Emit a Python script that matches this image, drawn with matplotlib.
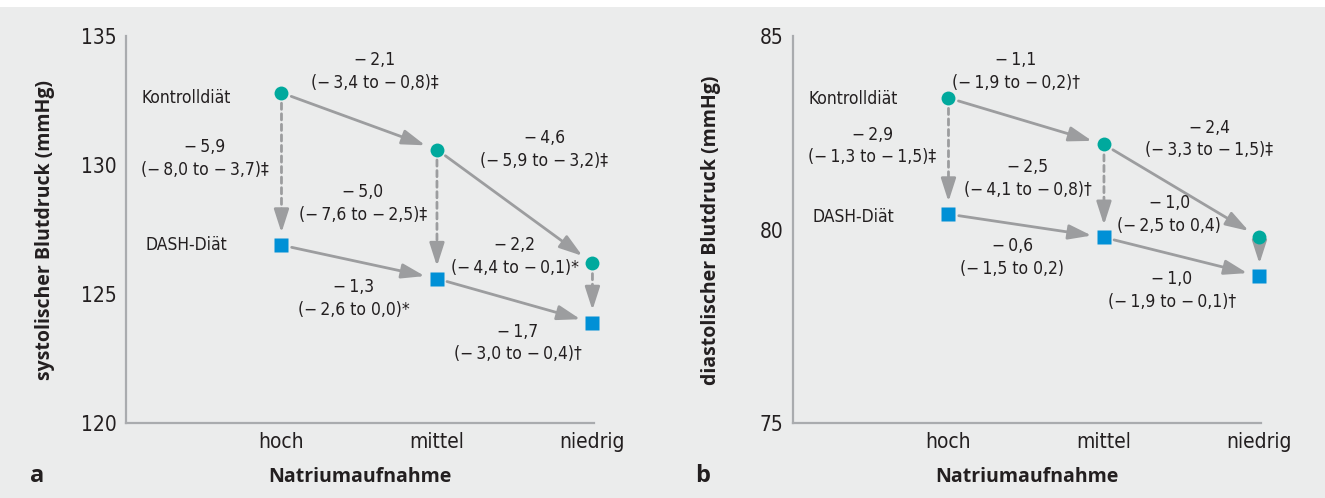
import numpy as np
import matplotlib.pyplot as plt
from matplotlib.patches import Rectangle

# Natriumaufnahme-Stufen und Blutdruckmittelwerte
categories = ["hoch", "mittel", "niedrig"]
groups = ["Kontrolldiät", "DASH-Diät"]
sys_kontroll = [132.8, 130.6, 126.2]
sys_dash = [126.9, 125.6, 123.9]
dia_kontroll = [83.4, 82.2, 79.8]
dia_dash = [80.4, 79.8, 78.8]

M = "\u2212\u2009"
# Reihenfolge: Kontrolle h->m, Kontrolle m->n, DASH h->m, DASH m->n, Diff hoch, Diff mittel, Diff niedrig
sys_effects = [M + "2,1\n(" + M + "3,4 to " + M + "0,8)‡",
               M + "4,6\n(" + M + "5,9 to " + M + "3,2)‡",
               M + "1,3\n(" + M + "2,6 to 0,0)*",
               M + "1,7\n(" + M + "3,0 to " + M + "0,4)†",
               M + "5,9\n(" + M + "8,0 to " + M + "3,7)‡",
               M + "5,0\n(" + M + "7,6 to " + M + "2,5)‡",
               M + "2,2\n(" + M + "4,4 to " + M + "0,1)*"]
dia_effects = [M + "1,1\n(" + M + "1,9 to " + M + "0,2)†",
               M + "2,4\n(" + M + "3,3 to " + M + "1,5)‡",
               M + "0,6\n(" + M + "1,5 to 0,2)",
               M + "1,0\n(" + M + "1,9 to " + M + "0,1)†",
               M + "2,9\n(" + M + "1,3 to " + M + "1,5)‡",
               M + "2,5\n(" + M + "4,1 to " + M + "0,8)†",
               M + "1,0\n(" + M + "2,5 to 0,4)"]

# Textpositionen (Datenkoordinaten)
sys_pos = [(1.60, 133.62), (2.69, 130.6), (1.464, 124.84), (2.52, 123.11),
           (0.508, 130.24), (1.524, 128.52), (2.50, 126.46)]
dia_pos = [(1.434, 84.08), (2.678, 82.34), (1.41, 79.29), (2.436, 78.43),
           (0.510, 82.16), (1.51, 81.31), (2.421, 80.38)]
sys_grp_pos = [(0.39, 132.59), (0.386, 126.91)]
dia_grp_pos = [(0.389, 83.37), (0.388, 80.33)]

BG = "#ebecec"
GRAY = "#9c9d9f"
SPINE = "#a9abae"
TEAL = "#00a99d"
BLUE = "#0090d6"
TXT = "#231f20"
BOLD = ["Open Sans", "DejaVu Sans"]
HEAD = "-|>,head_length=1.4,head_width=0.45"  # mutation_scale 10 -> 14pt Kopf
SHRINK_A, SHRINK_B, HEAD_PT = 7.5, 9, 14

fig = plt.figure(figsize=(13.25, 4.98), dpi=100)
fig.patch.set_facecolor("white")
fig.patches.append(Rectangle((0, 0), 1, 1 - 7 / 498, transform=fig.transFigure,
                             facecolor=BG, edgecolor="none", zorder=-10))

x = np.arange(1, len(categories) + 1)


def arrow(ax, p0, p1):
    ax.annotate("", xy=p1, xytext=p0,
                arrowprops=dict(arrowstyle=HEAD, color=GRAY, lw=2, mutation_scale=10,
                                shrinkA=SHRINK_A, shrinkB=SHRINK_B),
                zorder=2)


def dashed_arrow(ax, p0, p1):
    # gestrichelter Schaft + durchgezogene Spitze
    d0 = ax.transData.transform(p0)
    d1 = ax.transData.transform(p1)
    v = d0 - d1
    dist = np.hypot(*v)
    px = fig.dpi / 72
    hs = d1 + v / dist * (SHRINK_B + HEAD_PT) * px
    head_start = ax.transData.inverted().transform(hs)
    if dist / px > SHRINK_A + SHRINK_B + HEAD_PT + 2:
        ax.annotate("", xy=p1, xytext=p0,
                    arrowprops=dict(arrowstyle="-", color=GRAY, lw=2,
                                    shrinkA=SHRINK_A, shrinkB=SHRINK_B + HEAD_PT - 1,
                                    linestyle=(0, (2.2, 1.6))),
                    zorder=2)
    ax.annotate("", xy=p1, xytext=tuple(head_start),
                arrowprops=dict(arrowstyle=HEAD, color=GRAY, lw=2, mutation_scale=10,
                                shrinkA=0, shrinkB=SHRINK_B),
                zorder=2)


def panel(ax, kontroll, dash, ylim, effects, pos, grp_pos):
    ax.set_facecolor("none")
    ax.set_xlim(0, 3.01)
    ax.set_ylim(*ylim)
    ax.set_yticks(np.arange(ylim[0], ylim[1] + 1, 5))
    ax.set_xticks(x)
    ax.set_xticklabels(categories)
    for s in ["top", "right"]:
        ax.spines[s].set_visible(False)
    for s in ["left", "bottom"]:
        ax.spines[s].set_color(SPINE)
        ax.spines[s].set_linewidth(1.6)
    ax.tick_params(length=0, labelsize=15, labelcolor=TXT)
    ax.tick_params(axis="y", pad=7)
    ax.tick_params(axis="x", pad=6)
    for lab in ax.get_xticklabels() + ax.get_yticklabels():
        lab.set_fontfamily("DejaVu Sans")
        lab.set_fontstretch("condensed")

    # Pfeile
    for i in range(len(x) - 1):
        arrow(ax, (x[i], kontroll[i]), (x[i + 1], kontroll[i + 1]))
        arrow(ax, (x[i], dash[i]), (x[i + 1], dash[i + 1]))
    for i in range(len(x)):
        dashed_arrow(ax, (x[i], kontroll[i]), (x[i], dash[i]))

    ax.plot(x, kontroll, "o", color=TEAL, ms=10, mec="none", zorder=3, clip_on=False)
    ax.plot(x, dash, "s", color=BLUE, ms=10, mec="none", zorder=3, clip_on=False)

    for t, (tx, ty) in zip(effects, pos):
        ax.text(tx, ty, t, ha="center", va="center", fontsize=12.5, color=TXT,
                family="DejaVu Sans", fontstretch="condensed", linespacing=1.35)
    for g, (tx, ty) in zip(groups, grp_pos):
        ax.text(tx, ty, g, ha="center", va="center", fontsize=12.5, color=TXT,
                family="DejaVu Sans", fontstretch="condensed")


ax1 = fig.add_axes([126 / 1325, 1 - 423.3 / 498, 468 / 1325, 387.3 / 498])
ax2 = fig.add_axes([793 / 1325, 1 - 423.3 / 498, 468 / 1325, 387.3 / 498])
panel(ax1, sys_kontroll, sys_dash, (120, 135), sys_effects, sys_pos, sys_grp_pos)
panel(ax2, dia_kontroll, dia_dash, (75, 85), dia_effects, dia_pos, dia_grp_pos)

fig.text(45 / 1325, 1 - 230 / 498, "systolischer Blutdruck (mmHg)", rotation=90,
         ha="center", va="center", fontsize=14, fontweight="bold", color=TXT, family=BOLD)
fig.text(711 / 1325, 1 - 230 / 498, "diastolischer Blutdruck (mmHg)", rotation=90,
         ha="center", va="center", fontsize=14, fontweight="bold", color=TXT, family=BOLD)
for cx in [360, 1027]:
    fig.text(cx / 1325, 1 - 482 / 498, "Natriumaufnahme", ha="center", va="baseline",
             fontsize=14, fontweight="bold", color=TXT, family=BOLD)
fig.text(37 / 1325, 1 - 482 / 498, "a", ha="center", va="baseline",
         fontsize=17, fontweight="bold", color=TXT, family=BOLD)
fig.text(703 / 1325, 1 - 482 / 498, "b", ha="center", va="baseline",
         fontsize=17, fontweight="bold", color=TXT, family=BOLD)

fig.savefig("out.png", dpi=100)
